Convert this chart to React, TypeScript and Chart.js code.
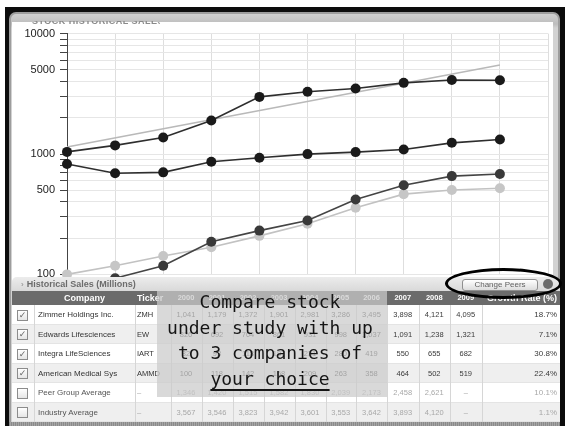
import React, { useEffect, useRef } from 'react';
import { Chart, registerables } from 'chart.js';
Chart.register(...registerables);

// ---------- data ----------
const yearLabels = ['2000', '2001', '2002', '2003', '2004', '2005', '2006', '2007', '2008', '2009', '2010'];
const tableYears = ['2000', '2001', '2002', '2003', '2004', '2005', '2006', '2007', '2008', '2009'];
const zimmerSales = [1041, 1179, 1372, 1901, 2981, 3286, 3495, 3898, 4121, 4095];
const edwardsSales = [826, 692, 704, 861, 931, 998, 1037, 1091, 1238, 1321];
const integraSales = [82, 93, 118, 187, 231, 280, 419, 550, 655, 682];
const ammdSales = [100, 118, 142, 168, 209, 263, 358, 464, 502, 519];
const peerAvgSales = [1346, 1420, 1515, 1582, 1830, 2039, 2173, 2458, 2621, null];
const industryAvgSales = [3567, 3546, 3823, 3942, 3601, 3553, 3642, 3893, 4120, null];
const zimmerTrend = [1144, null, null, null, null, null, null, null, null, 5480];
const yTickValues = [100, 200, 300, 400, 500, 600, 700, 800, 900, 1000, 2000, 3000, 4000, 5000, 6000, 7000, 8000, 9000, 10000];
const yLabelValues = [100, 500, 1000, 5000, 10000];

const companyNames = ['Zimmer Holdings Inc.', 'Edwards Lifesciences', 'Integra LifeSciences', 'American Medical Sys', 'Peer Group Average', 'Industry Average'];
const tickers = ['ZMH', 'EW', 'IART', 'AMMD', '–', '–'];
const checkedRows = [true, true, true, true, false, false];
const growthRates = ['18.7%', '7.1%', '30.8%', '22.4%', '10.1%', '1.1%'];
const tableRows = [zimmerSales, edwardsSales, integraSales, ammdSales, peerAvgSales, industryAvgSales];

// ---------- layout ----------
const colBounds = [12, 34, 135, 170.5, 201.5, 232.5, 263.5, 294.5, 325.5, 356, 387, 418.5, 450, 481.5, 560];
const FONT = '"Liberation Sans", Arial, sans-serif';
const CANVAS_W = 541;
const CANVAS_H = 264;

const fmt = (v: number | null) => (v == null ? '–' : v.toLocaleString('en-US'));

export default function App() {
  const ref = useRef<HTMLCanvasElement>(null);

  useEffect(() => {
    const ds = (label: string, data: (number | null)[], line: string, point: string, radius: number) => ({
      label,
      data,
      borderColor: line,
      backgroundColor: point,
      pointBackgroundColor: point,
      pointBorderColor: point,
      pointRadius: radius,
      pointBorderWidth: 0,
      borderWidth: 1.6,
      tension: 0,
      clip: false as const,
      spanGaps: true,
    });
    const chart = new Chart(ref.current!, {
      type: 'line',
      data: {
        labels: yearLabels,
        datasets: [
          ds('ZMH', zimmerSales, '#2e2e2e', '#1a1a1a', 5),
          ds('EW', edwardsSales, '#2e2e2e', '#1a1a1a', 5),
          ds('IART', integraSales, '#444444', '#393939', 5),
          ds('AMMD', ammdSales, '#c2c2c2', '#c6c6c6', 5),
          ds('Trend', zimmerTrend, '#b9b9b9', '#b9b9b9', 0),
        ],
      },
      options: {
        animation: false,
        responsive: false,
        maintainAspectRatio: false,
        layout: { padding: { top: 11, right: 1, bottom: 5, left: 0 } },
        plugins: { legend: { display: false }, tooltip: { enabled: false } },
        scales: {
          x: {
            type: 'category',
            offset: false,
            grid: { color: '#dedede', drawTicks: false, lineWidth: 1 },
            border: { display: false },
            ticks: { display: false },
            afterFit: (s: any) => {
              s.height = 0;
            },
          },
          y: {
            type: 'logarithmic',
            min: 100,
            max: 10000,
            afterBuildTicks: (s: any) => {
              s.ticks = yTickValues.map((v) => ({ value: v }));
            },
            afterFit: (s: any) => {
              s.width = 55;
            },
            ticks: {
              autoSkip: false,
              padding: 5,
              color: '#222',
              font: { family: FONT, size: 11 },
              callback: (v: any) => (yLabelValues.includes(Number(v)) ? String(v) : ''),
            },
            grid: { color: '#e6e6e6', tickColor: '#444', tickLength: 7 },
            border: { color: '#444', width: 1 },
          },
        },
      },
    } as any);
    return () => chart.destroy();
  }, []);

  const colW = (i: number) => colBounds[i + 1] - colBounds[i];
  const rowTop = (r: number) => 305 + r * 19.5;

  const cells: React.ReactNode[] = [];
  tableRows.forEach((vals, r) => {
    const top = rowTop(r);
    const bg = r % 2 === 0 ? '#ffffff' : '#efefef';
    const isAvg = r >= 4;
    const txt = isAvg ? '#a8a8a8' : '#3a3a3a';
    cells.push(
      <div key={'bg' + r} style={{ position: 'absolute', left: 12, top, width: 548, height: 19.5, background: bg, borderBottom: '1px solid #e4e4e4', boxSizing: 'border-box' }} />
    );
    for (let c = 1; c < colBounds.length - 1; c++) {
      cells.push(
        <div key={'sep' + r + '_' + c} style={{ position: 'absolute', left: colBounds[c], top, width: 1, height: 19.5, background: '#d6d6d6' }} />
      );
    }
    cells.push(
      <div key={'cb' + r} style={{ position: 'absolute', left: 17, top: top + 4.5, width: 11, height: 11, boxSizing: 'border-box', border: '1px solid #8c8c8c', background: 'linear-gradient(#ffffff, #e6e6e6)', fontSize: 9, lineHeight: '9px', textAlign: 'center', color: '#666', fontFamily: '"DejaVu Sans", sans-serif' }}>
        {checkedRows[r] ? '✓' : ''}
      </div>
    );
    cells.push(
      <div key={'nm' + r} style={{ position: 'absolute', left: colBounds[1] + 4, top, height: 19.5, lineHeight: '19.5px', fontSize: 8, color: isAvg ? '#555' : '#333', whiteSpace: 'nowrap' }}>
        {companyNames[r]}
      </div>
    );
    cells.push(
      <div key={'tk' + r} style={{ position: 'absolute', left: colBounds[2] + 2, top, height: 19.5, lineHeight: '19.5px', fontSize: 7.5, color: isAvg ? '#aaa' : '#333' }}>
        {tickers[r]}
      </div>
    );
    vals.forEach((v, c) => {
      cells.push(
        <div key={'v' + r + '_' + c} style={{ position: 'absolute', left: colBounds[3 + c], top, width: colW(3 + c), height: 19.5, lineHeight: '19.5px', fontSize: 7.5, color: txt, textAlign: 'center' }}>
          {fmt(v)}
        </div>
      );
    });
    cells.push(
      <div key={'g' + r} style={{ position: 'absolute', left: colBounds[13], top, width: colW(13) - 3, height: 19.5, lineHeight: '19.5px', fontSize: 8, color: txt, textAlign: 'right' }}>
        {growthRates[r]}
      </div>
    );
  });

  return (
    <div style={{ position: 'fixed', left: 0, top: 0, width: 565, height: 426, overflow: 'hidden', background: '#fff', fontFamily: FONT }}>
      {/* black frame */}
      <div style={{ position: 'absolute', left: 5, top: 7, width: 570, height: 430, background: '#0c0c0c' }} />
      {/* grey panel */}
      <div style={{ position: 'absolute', left: 9, top: 12, width: 551, height: 430, boxSizing: 'border-box', border: '2px solid #9d9d9d', borderRadius: '7px 7px 0 0', background: 'linear-gradient(#cfcfcf, #bdbdbd 10px, #d2d2d2 14px)' }} />
      {/* chart white area */}
      <div style={{ position: 'absolute', left: 12, top: 22, width: CANVAS_W, height: CANVAS_H, background: '#fff' }}>
        <canvas ref={ref} width={CANVAS_W} height={CANVAS_H} style={{ display: 'block', width: CANVAS_W, height: CANVAS_H }} />
      </div>
      {/* clipped panel title */}
      <div style={{ position: 'absolute', left: 32, top: 21, width: 128, height: 3, overflow: 'hidden' }}>
        <div style={{ position: 'absolute', left: 0, top: -5, fontSize: 9, fontWeight: 'bold', color: '#8a8a8a', whiteSpace: 'nowrap', letterSpacing: 0.5 }}>
          STOCK HISTORICAL SALES TREND
        </div>
      </div>

      {/* table panel */}
      <div style={{ position: 'absolute', left: 12, top: 277, width: 548, height: 150, background: '#f4f4f4', borderRadius: '5px 5px 0 0', overflow: 'hidden' }}>
        <div style={{ position: 'absolute', left: 0, top: 0, width: 548, height: 14, background: 'linear-gradient(#ececec, #d9d9d9)', borderBottom: '1px solid #c4c4c4' }} />
      </div>
      <div style={{ position: 'absolute', left: 21, top: 277, height: 14, lineHeight: '14px', fontSize: 9, fontWeight: 'bold', color: '#6c6c6c', whiteSpace: 'nowrap' }}>
        <span style={{ fontWeight: 'normal', fontSize: 8, marginRight: 3, color: '#888' }}>›</span>Historical Sales (Millions)
      </div>
      {/* change peers button */}
      <div style={{ position: 'absolute', left: 462, top: 279, width: 76, height: 12, boxSizing: 'border-box', border: '1px solid #8f8f8f', borderRadius: 3, background: 'linear-gradient(#ffffff, #dcdcdc)', fontSize: 8, lineHeight: '10px', textAlign: 'center', color: '#606060' }}>
        Change Peers
      </div>
      <div style={{ position: 'absolute', left: 543, top: 279, width: 10, height: 10, borderRadius: '50%', background: '#6a6a6a' }} />

      {/* header row */}
      <div style={{ position: 'absolute', left: 12, top: 291, width: 548, height: 14, background: '#6b6b6b' }} />
      <div style={{ position: 'absolute', left: colBounds[1], top: 291, width: colW(1), height: 14, lineHeight: '14px', textAlign: 'center', fontSize: 9, fontWeight: 'bold', color: '#fff' }}>Company</div>
      <div style={{ position: 'absolute', left: colBounds[2] + 2, top: 291, height: 14, lineHeight: '14px', fontSize: 9, fontWeight: 'bold', color: '#fff' }}>Ticker</div>
      {tableYears.map((y, c) => (
        <div key={'h' + y} style={{ position: 'absolute', left: colBounds[3 + c], top: 291, width: colW(3 + c), height: 14, lineHeight: '14px', textAlign: 'center', fontSize: 7.5, fontWeight: 'bold', color: '#fff' }}>
          {y}
        </div>
      ))}
      <div style={{ position: 'absolute', left: colBounds[13], top: 291, width: colW(13) - 3, height: 14, lineHeight: '14px', textAlign: 'right', fontSize: 9, fontWeight: 'bold', color: '#fff', whiteSpace: 'nowrap' }}>Growth Rate (%)</div>

      {cells}

      {/* bottom band */}
      <div style={{ position: 'absolute', left: 9, top: 422, width: 551, height: 6, background: 'repeating-linear-gradient(90deg, #8a8a8a 0px, #8a8a8a 1px, #a5a5a5 1px, #a5a5a5 2px)' }} />

      {/* overlay */}
      <div style={{ position: 'absolute', left: 157, top: 291, width: 230, height: 106, background: 'rgba(202,202,202,0.72)' }} />
      <div style={{ position: 'absolute', left: 157, top: 289, width: 226, textAlign: 'center', fontFamily: '"DejaVu Sans Mono", monospace', fontSize: 18, lineHeight: '25.7px', color: '#151515', whiteSpace: 'nowrap' }}>
        Compare stock
        <br />
        under study with up
        <br />
        to 3 companies of
        <br />
        <span style={{ textDecoration: 'underline', textDecorationThickness: '2px', textUnderlineOffset: '4px' }}>your choice</span>
      </div>

      {/* ellipse highlight */}
      <div style={{ position: 'absolute', left: 445, top: 268, width: 117, height: 31, boxSizing: 'border-box', border: '3px solid #000', borderRadius: '50%' }} />
    </div>
  );
}
